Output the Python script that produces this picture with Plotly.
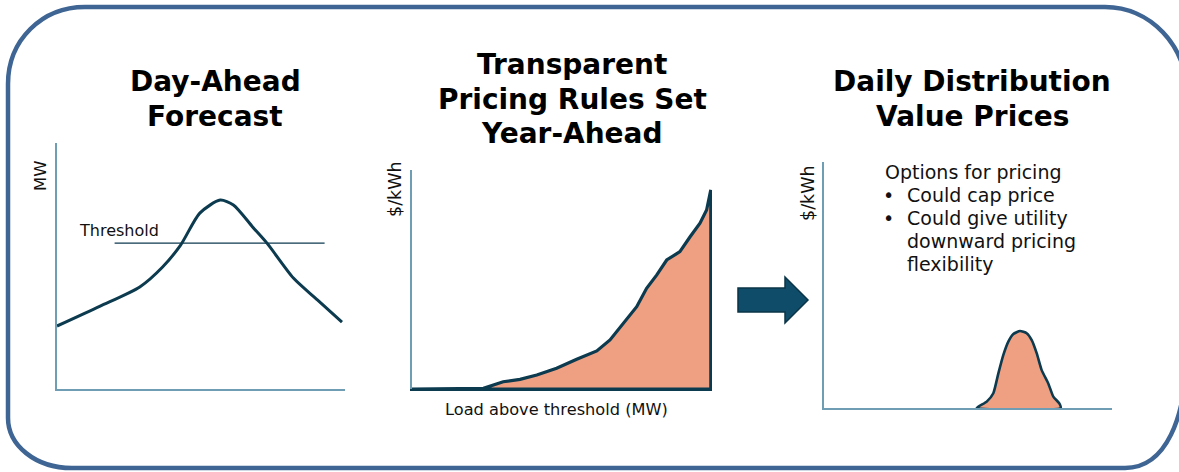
import plotly.graph_objects as go

W, H = 1179, 472

# ---------------- data ----------------
# Panel 1: day-ahead load forecast (hours vs MW index)
forecast_hour = [0, 3.6, 6.9, 8.8, 10.3, 11.9, 13.6, 14.7, 16.3, 17.5, 19.7, 21.7, 23.75]
forecast_mw = [25.6, 33.7, 41.5, 49.6, 58.5, 71.5, 76.8, 74.8, 65.9, 59.3, 45.1, 36.2, 27.2]
threshold_mw = 59.3
threshold_hours = [4.8, 22.3]

# Panel 2: pricing rule ($/kWh vs load above threshold)
load_above = [0, 23.8, 30.4, 36.0, 41.6, 48.2, 54.9, 61.6, 66.0, 70.4, 74.9, 78.2,
              81.6, 84.9, 89.3, 92.7, 96.0, 98.2, 99.6]
rule_price = [0, 0.3, 3.3, 4.4, 6.4, 9.5, 13.6, 17.4, 22.4, 30.0, 37.6, 46.0,
              52.1, 58.9, 62.7, 69.5, 75.7, 81.7, 90.9]

# Panel 3: daily distribution value price (hours vs $/kWh)
price_hour = [12.72, 13.56, 14.11, 14.53, 14.94, 15.36, 15.78, 16.33, 16.89,
              17.31, 17.73, 18.14, 18.69, 19.11, 19.61, 19.72]
daily_price = [0, 2.6, 6.0, 14.1, 21.5, 27.0, 30.1, 31.3, 30.4, 27.6, 22.2,
               15.4, 10.0, 4.6, 1.9, 0]

titles = [["Day-Ahead", "Forecast"],
          ["Transparent", "Pricing Rules Set", "Year-Ahead"],
          ["Daily Distribution", "Value Prices"]]
options_lines = ["Options for pricing", "Could cap price", "Could give utility",
                 "downward pricing", "flexibility"]

# ---------------- style ----------------
DARK = "#0c3a4f"
SALMON = "#efa083"
AXIS = "#6f9db4"
BORDER = "#3e6593"
FONT = "DejaVu Sans, Verdana, sans-serif"


def px(x):
    return x / W


def py(y):
    return 1 - y / H


fig = go.Figure()

# Panel 1
fig.add_trace(go.Scatter(x=forecast_hour, y=forecast_mw, mode="lines",
                         line=dict(color=DARK, width=3, shape="spline", smoothing=0.7),
                         cliponaxis=False, xaxis="x", yaxis="y", hoverinfo="skip"))
fig.add_trace(go.Scatter(x=threshold_hours, y=[threshold_mw, threshold_mw], mode="lines",
                         line=dict(color=DARK, width=1.3),
                         xaxis="x", yaxis="y", hoverinfo="skip"))

# Panel 2
poly_x = load_above + [load_above[-1], load_above[0]]
poly_y = rule_price + [rule_price[0], rule_price[0]]
fig.add_trace(go.Scatter(x=poly_x, y=poly_y, mode="lines", fill="toself",
                         fillcolor=SALMON, line=dict(color=DARK, width=3.2),
                         cliponaxis=False, xaxis="x2", yaxis="y2", hoverinfo="skip"))

# Panel 3
fig.add_trace(go.Scatter(x=price_hour + [price_hour[0]], y=daily_price + [daily_price[0]],
                         mode="lines", fill="toself", fillcolor=SALMON,
                         line=dict(color=DARK, width=2.6, shape="spline", smoothing=0.5),
                         cliponaxis=False, xaxis="x3", yaxis="y3", hoverinfo="skip"))

axis_common = dict(showline=True, linecolor=AXIS, linewidth=1.5, showticklabels=False,
                   ticks="", showgrid=False, zeroline=False, fixedrange=True)

fig.update_layout(
    width=W, height=H,
    margin=dict(l=0, r=0, t=0, b=0, pad=0),
    paper_bgcolor="white", plot_bgcolor="rgba(0,0,0,0)",
    showlegend=False,
    font=dict(family=FONT, color="#111111"),
    xaxis=dict(domain=[px(57), px(345)], range=[0, 24], anchor="y", **axis_common),
    yaxis=dict(domain=[py(389), py(143)], range=[0, 100], anchor="x", **axis_common),
    xaxis2=dict(domain=[px(412), px(712)], range=[0, 100], anchor="y2",
                **{**axis_common, "linecolor": DARK, "linewidth": 2}),
    yaxis2=dict(domain=[py(389), py(170)], range=[0, 100], anchor="x2", **axis_common),
    xaxis3=dict(domain=[px(824), px(1112)], range=[0, 24], anchor="y3", **axis_common),
    yaxis3=dict(domain=[py(408), py(162)], range=[0, 100], anchor="x3", **axis_common),
)

# border (rounded frame, right edge runs just off the canvas)
pts = "M 85,7 L 1105,7 C 1150,7 1187,45 1187,95 L 1187,345 C 1187,420 1165,468 1125,468 " \
      "L 72,468 C 35,468 8,445 8,418 L 8,84 C 8,40 42,7 85,7 Z"


def to_paper(path):
    out = []
    for tok in path.split():
        if "," in tok:
            a, b = tok.split(",")
            out.append(f"{px(float(a)):.5f},{py(float(b)):.5f}")
        else:
            out.append(tok)
    return " ".join(out)


fig.add_shape(type="path", xref="paper", yref="paper", path=to_paper(pts),
              line=dict(color=BORDER, width=4.5), fillcolor="rgba(0,0,0,0)", layer="below")

# arrow
arrow = "M 738,288 L 785,288 L 785,277 L 808,300 L 785,323 L 785,312 L 738,312 Z"
fig.add_shape(type="path", xref="paper", yref="paper", path=to_paper(arrow),
              line=dict(color="#0a3447", width=1.5), fillcolor="#0f4c69")


def label(x, y, text, size, xanchor="center", angle=0, color="#111111"):
    fig.add_annotation(x=px(x), y=py(y), xref="paper", yref="paper", text=text,
                       showarrow=False, xanchor=xanchor, yanchor="middle", textangle=angle,
                       font=dict(size=size, family=FONT, color=color))


# titles
title_pos = [(215, [81, 116]), (572, [65, 99, 133]), (972, [81, 116])]
for lines, (cx, ys) in zip(titles, title_pos):
    for line, yy in zip(lines, ys):
        label(cx, yy, f"<b>{line}</b>", 28, color="#000000")

# axis labels
label(40, 176, "MW", 16.5, angle=-90)
label(395, 189, "$/kWh", 17.5, angle=-90)
label(808, 193, "$/kWh", 17.5, angle=-90)
label(556, 409, "Load above threshold (MW)", 16.2)
label(77, 231, "Threshold", 16, xanchor="left")

# options text
opt_y = [172, 195, 218, 241, 264]
opt_x = [883, 905, 905, 905, 905]
for i, (t, yy, xx) in enumerate(zip(options_lines, opt_y, opt_x)):
    label(xx, yy, t, 19, xanchor="left")
    if i in (1, 2):
        label(881, yy, "•", 19, xanchor="left")

fig.write_html("out.html", config={"displayModeBar": False},
               post_script="document.body.style.margin='0';document.body.style.overflow='hidden';")
